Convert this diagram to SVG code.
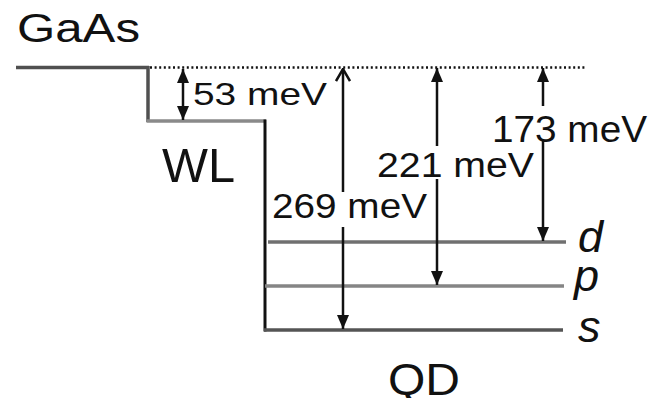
<svg xmlns="http://www.w3.org/2000/svg" width="660" height="398" viewBox="0 0 660 398">
<defs>
<style>
text{font-family:"Liberation Sans",Arial,sans-serif;fill:#111}
.ital{font-style:italic}
.arr{stroke:#111;stroke-width:2.5;fill:none}
</style>
<marker id="ah" viewBox="0 0 14 12" refX="14" refY="6" markerWidth="14" markerHeight="12" markerUnits="userSpaceOnUse" orient="auto-start-reverse">
<path d="M0,0 L14,6 L0,12 z" fill="#111"/>
</marker>
<marker id="oh" viewBox="0 0 14 16" refX="13" refY="8" markerWidth="14" markerHeight="16" markerUnits="userSpaceOnUse" orient="auto-start-reverse">
<path d="M1,1 L13,8 L1,15" fill="none" stroke="#111" stroke-width="2.5"/>
</marker>
</defs>
<rect width="660" height="398" fill="#fff"/>
<g id="gaas">
<line x1="16" y1="67.5" x2="149" y2="67.5" stroke="#505050" stroke-width="3.5"/>
<line x1="148" y1="66" x2="148" y2="122" stroke="#505050" stroke-width="3.5"/>
<line x1="150" y1="67.5" x2="585" y2="67.5" stroke="#111" stroke-width="2.5" stroke-dasharray="2 2.6"/>
<text x="17" y="42" font-size="40" textLength="123" lengthAdjust="spacingAndGlyphs">GaAs</text>
</g>
<g id="wl">
<line x1="146.5" y1="121" x2="266" y2="121" stroke="#8a8a8a" stroke-width="3.5"/>
<line x1="265" y1="119.5" x2="265" y2="331.5" stroke="#111" stroke-width="3"/>
<text x="162" y="182" font-size="48" textLength="73" lengthAdjust="spacingAndGlyphs">WL</text>
</g>
<g id="level-d">
<line x1="268" y1="242" x2="566" y2="242" stroke="#707070" stroke-width="3.5"/>
<text class="ital" x="578" y="252" font-size="45">d</text>
</g>
<g id="level-p">
<line x1="265" y1="286" x2="564" y2="286" stroke="#858585" stroke-width="3.5"/>
<text class="ital" x="574" y="291" font-size="45">p</text>
</g>
<g id="level-s">
<line x1="264" y1="330" x2="563" y2="330" stroke="#555" stroke-width="3.5"/>
<text class="ital" x="578" y="342" font-size="45">s</text>
</g>
<g id="qd">
<text x="388" y="395" font-size="44" textLength="72" lengthAdjust="spacingAndGlyphs">QD</text>
</g>
<g id="connectors">
<line class="arr" x1="183" y1="69" x2="183" y2="120" marker-start="url(#ah)" marker-end="url(#ah)"/>
<line class="arr" x1="343" y1="69" x2="343" y2="192" marker-start="url(#oh)"/>
<line class="arr" x1="343" y1="227" x2="343" y2="329" marker-end="url(#ah)"/>
<line class="arr" x1="437" y1="68" x2="437" y2="146" marker-start="url(#ah)"/>
<line class="arr" x1="437" y1="179" x2="437" y2="285" marker-end="url(#ah)"/>
<line class="arr" x1="543" y1="68" x2="543" y2="106" marker-start="url(#ah)"/>
<line class="arr" x1="543" y1="141" x2="543" y2="241" marker-end="url(#ah)"/>
</g>
<g id="labels">
<text x="193" y="105" font-size="32" textLength="134" lengthAdjust="spacingAndGlyphs">53 meV</text>
<text x="492" y="142" font-size="37" textLength="155" lengthAdjust="spacingAndGlyphs">173 meV</text>
<text x="377" y="177" font-size="35" textLength="157" lengthAdjust="spacingAndGlyphs">221 meV</text>
<text x="272" y="218" font-size="35" textLength="155" lengthAdjust="spacingAndGlyphs">269 meV</text>
</g>
</svg>
